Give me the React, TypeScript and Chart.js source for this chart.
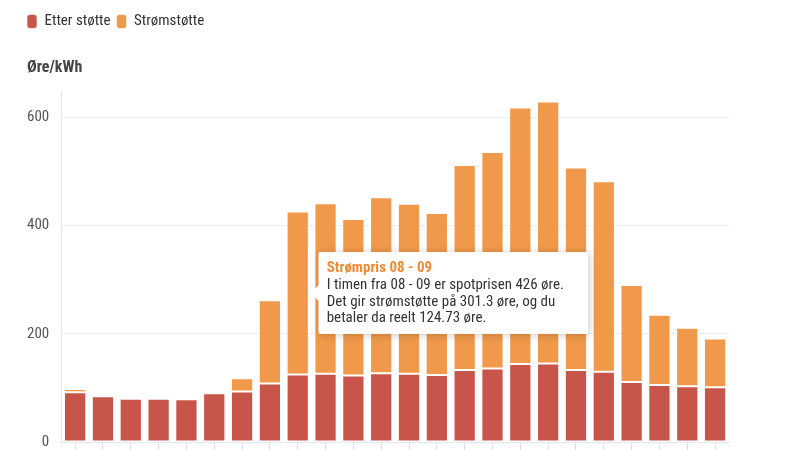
import React, { useEffect, useRef } from 'react';
import { Chart, registerables, Tooltip } from 'chart.js';

Chart.register(...registerables);

const hours = [
  '00 - 01', '01 - 02', '02 - 03', '03 - 04', '04 - 05', '05 - 06',
  '06 - 07', '07 - 08', '08 - 09', '09 - 10', '10 - 11', '11 - 12',
  '12 - 13', '13 - 14', '14 - 15', '15 - 16', '16 - 17', '17 - 18',
  '18 - 19', '19 - 20', '20 - 21', '21 - 22', '22 - 23', '23 - 00',
];
const spotpris = [98, 84.5, 80, 80, 79, 90, 118, 262, 426, 441, 412, 452, 440, 423, 512, 536, 618, 629, 507, 482, 290, 235, 211, 191];
const etterStotte = [92, 84.5, 80, 80, 79, 90, 93.5, 108, 124.73, 126, 123, 127, 126, 124, 133, 136, 144, 145, 133, 130, 111, 105.5, 103, 101];
const stromstotte = [6, 0, 0, 0, 0, 0, 24.5, 154, 301.3, 315, 289, 325, 314, 299, 379, 400, 474, 484, 374, 352, 179, 129.5, 108, 90];
const yTicks = [0, 200, 400, 600];
const yMax = 650;
const activeHour = 8;

const RED = '#c8554a';
const ORANGE = '#f1994a';
const FAMILY = '"Roboto Condensed", Roboto';
const REG = '400 condensed';
const BOLD = '700 condensed';
const LEGEND_PAD = 6;

(Tooltip as any).positioners.stackTop = function (items: any[]) {
  if (!items.length) return false;
  let x = 0;
  let y = 0;
  items.forEach((it: any) => {
    x += it.element.x;
    y += it.element.y;
  });
  return { x: x / items.length, y: y / items.length };
};

const tooltipShadow = {
  id: 'tooltipShadow',
  beforeTooltipDraw(chart: any, args: any) {
    const tt = args.tooltip;
    if (!tt || !tt.opacity) return;
    const ctx = chart.ctx;
    ctx.save();
    ctx.shadowColor = 'rgba(0,0,0,0.22)';
    ctx.shadowBlur = 8;
    ctx.shadowOffsetX = 1;
    ctx.shadowOffsetY = 1;
    ctx.fillStyle = '#fff';
    ctx.fillRect(tt.x, tt.y, tt.width, tt.height);
    ctx.restore();
  },
};

const shiftLegend = {
  id: 'shiftLegend',
  afterLayout(chart: any) {
    const l = chart.legend;
    if (l) {
      l.left -= LEGEND_PAD;
      l.right -= LEGEND_PAD;
    }
  },
};

export default function App() {
  const ref = useRef<HTMLCanvasElement | null>(null);

  useEffect(() => {
    if (!ref.current) return;
    Chart.defaults.font.family = FAMILY;
    const chart = new Chart(ref.current, {
      type: 'bar',
      data: {
        labels: hours,
        datasets: [
          {
            label: 'Etter støtte',
            data: etterStotte,
            backgroundColor: RED,
            borderColor: 'rgba(255,255,255,0.6)',
            borderWidth: 1,
            borderSkipped: false,
            barPercentage: 0.8,
            categoryPercentage: 1,
          },
          {
            label: 'Strømstøtte',
            data: stromstotte,
            backgroundColor: ORANGE,
            borderColor: 'rgba(255,255,255,0.6)',
            borderWidth: 1,
            borderSkipped: false,
            barPercentage: 0.8,
            categoryPercentage: 1,
          },
        ],
      },
      options: {
        animation: false,
        responsive: true,
        maintainAspectRatio: false,
        events: [],
        layout: { padding: { left: 27, right: 71, top: 8, bottom: 0 } },
        scales: {
          x: {
            stacked: true,
            grid: {
              display: true,
              drawOnChartArea: false,
              drawTicks: true,
              tickLength: 8,
              offset: false,
              color: '#dddddd',
            },
            border: { display: true, color: '#e6e6e6' },
            ticks: { display: false },
          },
          y: {
            stacked: true,
            min: 0,
            max: yMax,
            afterBuildTicks: (scale: any) => {
              scale.ticks = yTicks.map((v) => ({ value: v }));
            },
            grid: {
              color: '#ebebeb',
              drawTicks: true,
              tickLength: 12,
              tickColor: 'rgba(0,0,0,0)',
            },
            border: { display: true, color: '#e6e6e6' },
            ticks: {
              padding: 0,
              color: '#555',
              font: { size: 15, family: FAMILY, weight: REG, lineHeight: 1 },
            },
          },
        },
        plugins: {
          legend: {
            display: true,
            position: 'top',
            align: 'start',
            weight: 3000,
            labels: {
              boxWidth: 10,
              boxHeight: 14,
              useBorderRadius: true,
              borderRadius: 3,
              padding: LEGEND_PAD,
              color: '#333',
              font: { size: 15, family: FAMILY, weight: REG },
            },
          },
          title: {
            display: true,
            text: 'Øre/kWh',
            align: 'start',
            position: 'top',
            color: '#444',
            font: { size: 16, weight: BOLD, family: FAMILY },
            padding: { top: 19, bottom: 13 },
          },
          tooltip: {
            enabled: true,
            mode: 'index',
            intersect: false,
            position: 'stackTop',
            filter: (item: any) => item.datasetIndex === 0,
            backgroundColor: '#ffffff',
            titleColor: '#ef8a34',
            bodyColor: '#333',
            titleFont: { family: FAMILY, size: 15, weight: BOLD },
            bodyFont: { family: FAMILY, size: 15, weight: REG, lineHeight: 1.1 },
            titleMarginBottom: 0,
            titleSpacing: 0,
            bodySpacing: 0,
            padding: { top: 7, bottom: 7, left: 8, right: 24 },
            caretSize: 8,
            caretPadding: 13,
            cornerRadius: 3,
            displayColors: false,
            xAlign: 'left',
            yAlign: 'center',
            callbacks: {
              title: (items: any[]) => 'Strømpris ' + items[0].label,
              label: (ctx: any) => {
                const i = ctx.dataIndex;
                return [
                  `I timen fra ${hours[i]} er spotprisen ${spotpris[i]} øre.`,
                  `Det gir strømstøtte på ${stromstotte[i]} øre, og du`,
                  `betaler da reelt ${etterStotte[i]} øre.`,
                ];
              },
            },
          },
        },
      },
      plugins: [tooltipShadow, shiftLegend],
    } as any);

    chart.tooltip?.setActiveElements(
      [
        { datasetIndex: 0, index: activeHour },
        { datasetIndex: 1, index: activeHour },
      ],
      { x: 0, y: 0 }
    );
    chart.update();

    return () => chart.destroy();
  }, []);

  return (
    <div style={{ position: 'absolute', left: 0, top: 0, width: 800, height: 450 }}>
      <canvas ref={ref} />
    </div>
  );
}
